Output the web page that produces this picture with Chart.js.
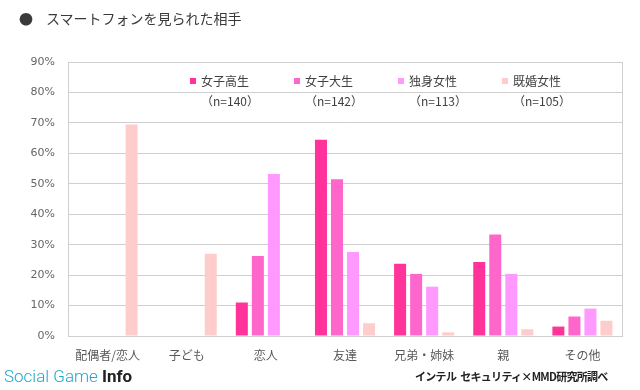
<!DOCTYPE html>
<html>
<head>
<meta charset="utf-8">
<script src="https://cdn.jsdelivr.net/npm/chart.js@4"></script>
<style>
html,body{margin:0;padding:0;background:#fff;}
#wrap{position:relative;width:640px;height:390px;overflow:hidden;}
canvas{position:absolute;left:0;top:0;}
.t{position:absolute;white-space:nowrap;}
#title{left:19px;top:8px;font:14px "Noto Sans CJK JP";color:#3a3a3a;}
#title span{margin-left:13px;}
#src{left:415px;top:368px;font:bold 11px "Noto Sans CJK JP";color:#222;letter-spacing:-0.7px;}
#src span{margin-left:4px;}
#sgi{left:4px;top:366px;font:300 17px Roboto;color:#1fa7c9;letter-spacing:0px;}
#sgi b{font-weight:700;color:#222;}
</style>
</head>
<body>
<div id="wrap">
<canvas id="c" width="640" height="390"></canvas>
<div class="t" id="title">●<span>スマートフォンを見られた相手</span></div>
<div class="t" id="sgi">Social Game <b>Info</b></div>
<div class="t" id="src">インテル<span>セキュリティ×MMD研究所調べ</span></div>
</div>
<script>
const categories = ['配偶者/恋人','子ども','恋人','友達','兄弟・姉妹','親','その他'];
const seriesNames = ['女子高生','女子大生','独身女性','既婚女性'];
const sampleSizes = ['（n=140）','（n=142）','（n=113）','（n=105）'];
const highSchool = [0, 0, 11, 64.5, 23.7, 24.3, 3.1];
const university = [0, 0, 26.3, 51.5, 20.4, 33.3, 6.4];
const singleWomen = [0, 0, 53.2, 27.6, 16.2, 20.4, 9];
const marriedWomen = [69.5, 27, 0, 4.2, 1.2, 2.2, 5];
const yTicks = [0,10,20,30,40,50,60,70,80,90];
const colors = ['#ff3399','#ff66cc','#ff99ff','#ffcccc'];

const seriesData = [highSchool, university, singleWomen, marriedWomen];

const gridCol = '#cfcfcf';

const framePlugin = {
  id:'frame',
  afterDatasetsDraw(chart){
    const {ctx, chartArea:a} = chart;
    ctx.save();
    ctx.strokeStyle = gridCol;
    ctx.lineWidth = 1;
    ctx.beginPath();
    ctx.moveTo(Math.round(a.right)+0.5, a.top);
    ctx.lineTo(Math.round(a.right)+0.5, a.bottom);
    ctx.stroke();
    ctx.restore();
  },
  afterDraw(chart){
    const ctx = chart.ctx;
    ctx.save();
    const x0 = 190, dx = 104;
    seriesNames.forEach((n,i)=>{
      const x = x0 + i*dx;
      ctx.fillStyle = colors[i];
      ctx.fillRect(x, 78, 6, 6);
      ctx.fillStyle = '#404040';
      ctx.font = '12px "Noto Sans CJK JP"';
      ctx.textBaseline = 'middle';
      ctx.textAlign = 'left';
      ctx.fillText(n, x+11, 81);
      ctx.font = '12px "Noto Sans CJK JP"';
      ctx.fillText(sampleSizes[i], x+11, 101);
    });
    ctx.restore();
  }
};

new Chart(document.getElementById('c'), {
  type:'bar',
  data:{
    labels: categories,
    datasets: seriesNames.map((n,i)=>({
      label:n,
      data: seriesData[i],
      backgroundColor: colors[i],
      borderWidth:0,
      categoryPercentage:0.81,
      barPercentage:0.75
    }))
  },
  options:{
    responsive:false,
    devicePixelRatio:1,
    animation:false,
    layout:{padding:{left:0,right:18,top:62,bottom:0}},
    plugins:{legend:{display:false},tooltip:{enabled:false}},
    scales:{
      x:{
        grid:{display:false, drawTicks:false},
        border:{display:true,color:gridCol},
        ticks:{color:'#595959',font:{family:'"Noto Sans CJK JP"',size:12},padding:12,maxRotation:0,autoSkip:false},
        afterFit(s){ s.height = 54; }
      },
      y:{
        min:0,max:90,
        afterBuildTicks(s){ s.ticks = yTicks.map(v=>({value:v})); },
        grid:{color:gridCol, drawTicks:false},
        border:{display:true,color:gridCol},
        ticks:{color:'#666',font:{family:'"DejaVu Sans"',size:11},padding:13,callback:v=>v+'%'},
        afterFit(s){ s.width = 68; }
      }
    }
  },
  plugins:[framePlugin]
});
</script>
</body>
</html>
